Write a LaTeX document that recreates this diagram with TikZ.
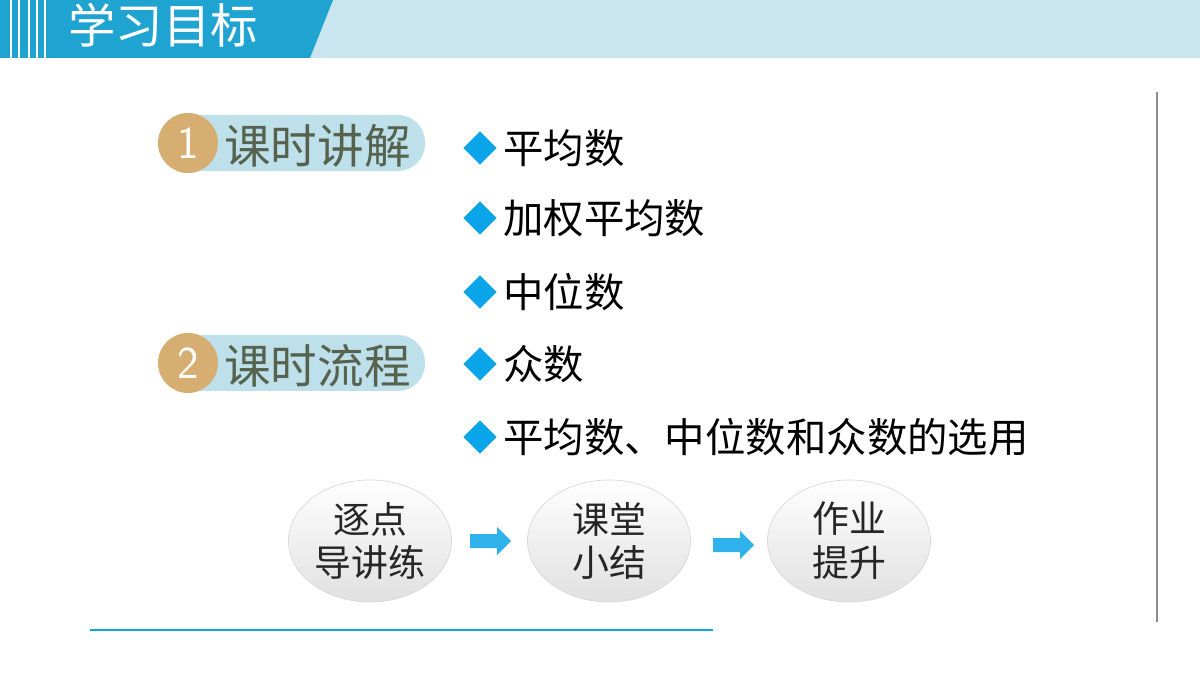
\documentclass[tikz,border=0pt]{standalone}
\usepackage{fontspec}
\newfontfamily\cjk{Noto Sans CJK SC}
\usetikzlibrary{shapes.geometric,shadings}
\definecolor{hblue}{HTML}{1FA3D1}
\definecolor{hlight}{HTML}{C9E6F0}
\definecolor{gold}{HTML}{D7AE72}
\definecolor{pill}{HTML}{BEE0EA}
\definecolor{olive}{HTML}{56624E}
\definecolor{dia}{HTML}{0AA4E8}
\tikzset{
 item/.style={anchor=west,font=\cjk\fontsize{23}{25}\selectfont,text=black,inner sep=0},
 bul/.style={diamond,fill=dia,minimum size=19pt,inner sep=0},
 flow/.style={ellipse,minimum width=163*0.02cm,minimum height=122*0.02cm,draw=black!15,top color=white,bottom color=black!12,align=center,font=\cjk\fontsize{21}{25}\selectfont,text=black!85,inner sep=0},
 barrow/.style={fill=dia!85},
 pilltext/.style={anchor=west,font=\cjk\fontsize{26.5}{28}\selectfont,text=olive,inner sep=0}
}
\begin{document}
\begin{tikzpicture}[x=0.02cm,y=-0.02cm]
\useasboundingbox (0,0) rectangle (1200,675);
\fill[white] (0,0) rectangle (1200,675);
\fill[hlight] (0,0) rectangle (1200,58);
\fill[hblue] (0,0) -- (333,0) -- (310,58) -- (0,58) -- cycle;
\foreach \x in {10,18,28,36,44} \fill[white] (\x,0) rectangle ++(2,58);
\node[font=\cjk\fontsize{27}{29}\selectfont,text=white,anchor=west,inner sep=0] (title) at (68,25) {学习目标};
% pills
\foreach \y/\n/\t in {143/1/课时讲解,363/2/课时流程}{
 \fill[pill,rounded corners=27*0.02cm] (170,\y-28) rectangle (425,\y+28);
 \node[circle,fill=gold,minimum size=60*0.02cm,inner sep=0,text=white,font=\fontsize{26}{26}\selectfont\sffamily] (c\n) at (188,\y) {\n};
 \node[pilltext] (p\n) at (224,\y+3) {\t};
}
% items
\foreach \y/\t [count=\i] in {148/平均数,218/加权平均数,292/中位数,364/众数,437/{平均数、中位数和众数的选用}}{
 \node[bul] (b\i) at (480,\y) {};
 \node[item] (t\i) at (503,\y) {\t};
}
% flow
\node[flow] (f1) at (370,541) {逐点\\导讲练};
\node[flow] (f2) at (609,541) {课堂\\小结};
\node[flow] (f3) at (849,541) {作业\\提升};
\coordinate (a1) at (470,541);
\coordinate (a2) at (713,545);
\foreach \a in {a1,a2}
 \fill[barrow] (\a) ++(0,-7) -- ++(27,0) -- ++(0,-7) -- ++(14,14) -- ++(-14,14) -- ++(0,-7) -- ++(-27,0) -- cycle;
\draw[dia,line width=1pt] (90,630) -- (713,630);
\draw[black!45,line width=0.8pt] (1157,92) -- (1157,622);
\end{tikzpicture}
\end{document}
